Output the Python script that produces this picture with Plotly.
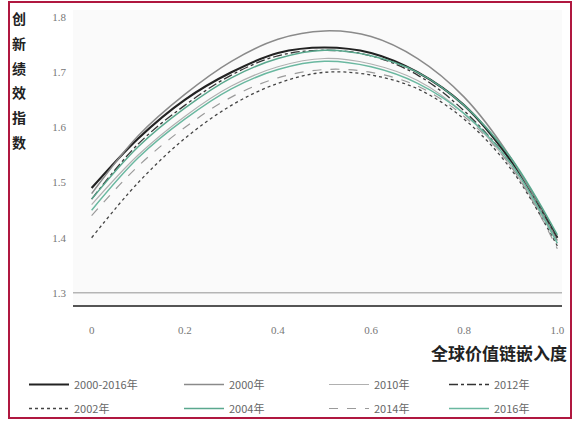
import plotly.graph_objects as go

x_vals = [0.0, 0.1, 0.2, 0.3, 0.4, 0.5, 0.6, 0.7, 0.8, 0.9, 1.0]

s_all = [1.49, 1.58, 1.65, 1.70, 1.735, 1.745, 1.735, 1.70, 1.64, 1.54, 1.40]
s_2000 = [1.48, 1.585, 1.66, 1.72, 1.76, 1.775, 1.765, 1.725, 1.655, 1.545, 1.395]
s_2010 = [1.46, 1.55, 1.62, 1.675, 1.71, 1.725, 1.715, 1.685, 1.625, 1.53, 1.39]
s_2012 = [1.47, 1.57, 1.64, 1.695, 1.73, 1.74, 1.73, 1.695, 1.63, 1.535, 1.40]
s_2002 = [1.40, 1.50, 1.58, 1.64, 1.68, 1.70, 1.695, 1.67, 1.615, 1.525, 1.385]
s_2004 = [1.47, 1.565, 1.635, 1.69, 1.725, 1.74, 1.73, 1.70, 1.64, 1.545, 1.405]
s_2014 = [1.44, 1.53, 1.60, 1.655, 1.69, 1.705, 1.70, 1.675, 1.62, 1.53, 1.38]
s_2016 = [1.45, 1.545, 1.615, 1.67, 1.705, 1.72, 1.71, 1.68, 1.625, 1.535, 1.39]

names = ["2000-2016年", "2000年", "2010年", "2012年", "2002年", "2004年", "2014年", "2016年"]
series = [s_all, s_2000, s_2010, s_2012, s_2002, s_2004, s_2014, s_2016]
styles = [
    dict(color="#222222", width=2.2, dash="solid"),
    dict(color="#8a8a8a", width=1.5, dash="solid"),
    dict(color="#b0b0b0", width=1.2, dash="solid"),
    dict(color="#333333", width=1.3, dash="dashdot"),
    dict(color="#444444", width=1.3, dash="dot"),
    dict(color="#5aa88e", width=1.5, dash="solid"),
    dict(color="#9a9a9a", width=1.2, dash="dash"),
    dict(color="#6ab8a0", width=1.5, dash="solid"),
]

x_ticks = [0, 0.2, 0.4, 0.6, 0.8, 1.0]
x_ticklabels = ["0", "0.2", "0.4", "0.6", "0.8", "1.0"]
y_ticks = [1.3, 1.4, 1.5, 1.6, 1.7, 1.8]
y_ticklabels = ["1.3", "1.4", "1.5", "1.6", "1.7", "1.8"]
y_title_chars = ["创", "新", "绩", "效", "指", "数"]

legend_ids = ["legend", "legend2", "legend3", "legend4"]

fig = go.Figure()
for i, (nm, ys, st) in enumerate(zip(names, series, styles)):
    fig.add_trace(go.Scatter(x=x_vals, y=ys, name=nm, mode="lines",
                             legend=legend_ids[i % 4], legendgroup="g%d" % i,
                             line=dict(shape="spline", **st)))

W, H = 574, 423
ml, mr, mt, mb = 73, 12, 10, 118
pw, ph = W - ml - mr, H - mt - mb

col_x = [24, 179, 324, 444]
legend_common = dict(xref="container", yref="container", xanchor="left",
                     y=1 - 370 / H, yanchor="top", orientation="v",
                     font=dict(size=11, color="#666666"), traceorder="grouped",
                     tracegroupgap=5, bgcolor="rgba(0,0,0,0)", itemwidth=40)

fig.update_layout(
    width=W, height=H,
    margin=dict(l=ml, r=mr, t=mt, b=mb, autoexpand=False),
    paper_bgcolor="#ffffff",
    plot_bgcolor="#fafafa",
    font=dict(family="Noto Sans CJK SC, sans-serif", size=11, color="#555555"),
    showlegend=True,
    legend=dict(x=col_x[0] / W, **legend_common),
    legend2=dict(x=col_x[1] / W, **legend_common),
    legend3=dict(x=col_x[2] / W, **legend_common),
    legend4=dict(x=col_x[3] / W, **legend_common),
)
fig.update_xaxes(range=[-0.04, 1.01], tickvals=x_ticks, ticktext=x_ticklabels,
                 showgrid=False, zeroline=False, showline=True,
                 linecolor="#555555", linewidth=1.5, ticks="",
                 ticklabelstandoff=14,
                 tickfont=dict(family="Liberation Serif, serif", size=11, color="#777777"))
fig.update_yaxes(range=[1.278, 1.813], tickvals=y_ticks, ticktext=y_ticklabels,
                 showgrid=False, zeroline=False, showline=False, ticks="",
                 ticklabelstandoff=6,
                 tickfont=dict(family="Liberation Serif, serif", size=11, color="#777777"))

fig.add_hline(y=1.3, line=dict(color="#b5b5b5", width=1.5))

y_centers = [18, 43, 68, 92, 117, 142]
for ch, yc in zip(y_title_chars, y_centers):
    fig.add_annotation(text="<b>" + ch + "</b>", xref="paper", yref="paper",
                       x=(19 - ml) / pw, y=(H - mb - yc) / ph,
                       xanchor="center", yanchor="middle", showarrow=False,
                       font=dict(size=14, color="#222222", family="Noto Sans CJK SC"))
fig.add_annotation(text="<b>全球价值链嵌入度</b>", xref="paper", yref="paper",
                   x=(569 - ml) / pw, y=(H - mb - 352) / ph, xanchor="right", yanchor="middle",
                   showarrow=False,
                   font=dict(size=17, color="#222222", family="Noto Sans CJK SC"))

fig.add_shape(type="rect", xref="paper", yref="paper",
              x0=(9 - ml) / pw, x1=(571 - ml) / pw,
              y0=(H - mb - 418) / ph, y1=(H - mb - 2) / ph,
              line=dict(color="#b01840", width=2), fillcolor="rgba(0,0,0,0)")

fig.write_html("out.html", config={"displayModeBar": False},
               post_script="document.body.style.margin='0';document.body.style.padding='0';document.body.style.overflow='hidden';")
